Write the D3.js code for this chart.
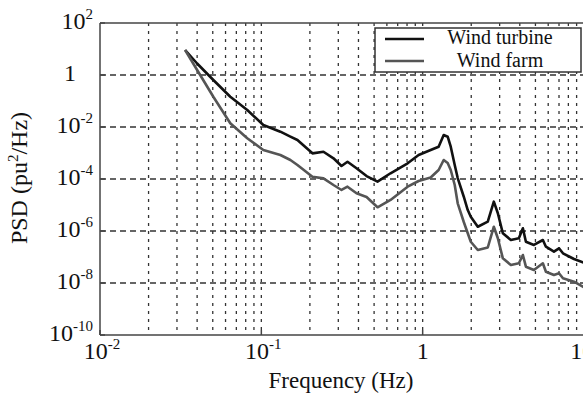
<!DOCTYPE html>
<html>
<head>
<meta charset="utf-8">
<script src="https://cdn.jsdelivr.net/npm/d3@7"></script>
<style>
    body { margin: 0; background: white; }
    svg text { font-family: 'Liberation Serif', serif; fill: #111; }
</style>
</head>
<body>
<svg id="chart" width="583" height="394"></svg>
<script>
// frequencies (Hz) sampled along both curves
const freq = [0.0337, 0.0400, 0.0504, 0.0642, 0.0818, 0.1029, 0.1312, 0.1514, 0.1674, 0.2074,
    0.2427, 0.280, 0.314, 0.342, 0.389, 0.449, 0.525, 0.632, 0.807, 0.944,
    1.121, 1.256, 1.350, 1.429, 1.493, 1.580, 1.649, 1.798, 1.903, 1.987,
    2.196, 2.533, 2.761, 2.924, 3.140, 3.521, 3.947, 4.180, 4.364, 4.891,
    5.560, 5.807, 6.511, 6.998, 7.406, 8.670, 10];
// PSD (pu^2/Hz)
const turbine = [9.16, 2.77, 0.643, 0.146, 0.0451, 0.0119, 6.59e-3, 4.24e-3, 3.16e-3, 9.7e-4,
    1.12e-3, 6.25e-4, 3.16e-4, 4.62e-4, 2.58e-4, 1.30e-4, 7.87e-5, 1.66e-4, 4.02e-4, 8.38e-4,
    1.30e-3, 1.75e-3, 4.92e-3, 4.24e-3, 1.75e-3, 3.45e-4, 1.09e-4, 2.08e-5, 6.42e-6, 3.55e-6,
    1.46e-6, 2.28e-6, 1.34e-5, 4.80e-6, 8.17e-7, 4.51e-7, 5.24e-7, 1.27e-6, 3.87e-7, 2.90e-7,
    4.51e-7, 2.49e-7, 1.60e-7, 2.16e-7, 1.39e-7, 8.38e-8, 6.04e-8];
const farm = [9.16, 1.56, 0.146, 0.0139, 3.67e-3, 1.30e-3, 8.38e-4, 5.38e-4, 3.45e-4, 1.22e-4,
    1.06e-4, 5.88e-5, 3.78e-5, 5.06e-5, 2.82e-5, 2.03e-5, 8.17e-6, 1.56e-5, 5.06e-5, 8.38e-5,
    1.14e-4, 2.22e-4, 5.38e-4, 4.12e-4, 2.22e-4, 5.88e-5, 1.16e-5, 2.22e-6, 8.17e-7, 3.87e-7,
    1.86e-7, 2.32e-7, 1.46e-6, 5.24e-7, 8.9e-8, 4.92e-8, 5.73e-8, 1.19e-7, 4.24e-8, 3.16e-8,
    5.73e-8, 2.72e-8, 2.03e-8, 2.36e-8, 1.52e-8, 1.12e-8, 6.84e-9];

const xTickExp = [-2, -1, 0, 1];
const yTickExp = [2, 0, -2, -4, -6, -8, -10];
const seriesNames = ["Wind turbine", "Wind farm"];
const seriesColors = ["#111", "#555"];

const svg = d3.select("#chart");
const margin = {left: 100, top: 23, right: -1, bottom: 59};
const W = 583, H = 394;

let x = d3.scaleLog().domain([1e-2, 10]).range([margin.left, W - margin.right]);
let y = d3.scaleLog().domain([1e-10, 1e2]).range([H - margin.bottom, margin.top]);

let grid = svg.append("g");
// vertical dotted grid at every 1..9 x decade
let xGrid = [];
for (let e = -2; e < 1; e++) {
    for (let m = 1; m < 10; m++) {
        if (e == -2 && m == 1) continue;
        xGrid.push(m * Math.pow(10, e));
    }
}
grid.selectAll("line.vx")
    .data(xGrid)
    .enter()
    .append("line")
    .attr("x1", d => x(d)).attr("x2", d => x(d))
    .attr("y1", y(1e2)).attr("y2", y(1e-10))
    .attr("stroke", "#333")
    .attr("stroke-width", 1.3)
    .attr("stroke-dasharray", "3,5");
// horizontal dashed grid
grid.selectAll("line.hy")
    .data(yTickExp.filter(e => e < 2 && e > -10))
    .enter()
    .append("line")
    .attr("x1", x(1e-2)).attr("x2", x(10))
    .attr("y1", d => y(Math.pow(10, d))).attr("y2", d => y(Math.pow(10, d)))
    .attr("stroke", "#333")
    .attr("stroke-width", 1.3)
    .attr("stroke-dasharray", "6,4");

// curves
let line = d3.line()
    .x((d, i) => x(freq[i]))
    .y(d => y(d));
[turbine, farm].forEach((s, k) => {
    svg.append("path")
        .attr("d", line(s))
        .attr("fill", "none")
        .attr("stroke", seriesColors[k])
        .attr("stroke-width", 2.6)
        .attr("stroke-linejoin", "round");
});

// axes box
let axes = svg.append("g").attr("stroke", "#444").attr("stroke-width", 1.5);
axes.append("line").attr("x1", x(1e-2)).attr("x2", x(1e-2)).attr("y1", y(1e2)).attr("y2", y(1e-10));
axes.append("line").attr("x1", x(1e-2)).attr("x2", x(10)).attr("y1", y(1e-10)).attr("y2", y(1e-10));
axes.append("line").attr("x1", x(1e-2)).attr("x2", x(10)).attr("y1", y(1e2)).attr("y2", y(1e2));

// tick marks
axes.selectAll("line.yt")
    .data(yTickExp)
    .enter()
    .append("line")
    .attr("x1", x(1e-2)).attr("x2", x(1e-2) + 5)
    .attr("y1", d => y(Math.pow(10, d))).attr("y2", d => y(Math.pow(10, d)));
axes.selectAll("line.xt")
    .data(xTickExp)
    .enter()
    .append("line")
    .attr("x1", d => x(Math.pow(10, d))).attr("x2", d => x(Math.pow(10, d)))
    .attr("y1", y(1e-10)).attr("y2", y(1e-10) - 5);

// tick labels
function powLabel(sel, e) {
    if (e == 0) {
        sel.text("1");
        return;
    }
    sel.append("tspan").text("10");
    sel.append("tspan")
        .attr("dy", -10)
        .attr("font-size", 15)
        .text(e);
}
yTickExp.forEach(e => {
    let t = svg.append("text")
        .attr("x", e == 0 ? 76 : 93)
        .attr("y", y(Math.pow(10, e)) + 6)
        .attr("text-anchor", "end")
        .attr("font-size", 24);
    powLabel(t, e);
});
xTickExp.forEach(e => {
    let t = svg.append("text")
        .attr("x", x(Math.pow(10, e)) + (e == 0 ? 0 : 2))
        .attr("y", 359)
        .attr("text-anchor", "middle")
        .attr("font-size", 24);
    powLabel(t, e);
});

// axis titles
svg.append("text")
    .attr("x", 341)
    .attr("y", 388)
    .attr("text-anchor", "middle")
    .attr("font-size", 23)
    .text("Frequency (Hz)");
let yt = svg.append("text")
    .attr("transform", "translate(27,178) rotate(-90)")
    .attr("text-anchor", "middle")
    .attr("font-size", 24);
yt.append("tspan").text("PSD (pu");
yt.append("tspan").attr("dy", -9).attr("font-size", 15).text("2");
yt.append("tspan").attr("dy", 9).text("/Hz)");

// legend
let legend = svg.append("g");
legend.append("rect")
    .attr("x", 375).attr("y", 28)
    .attr("width", 206).attr("height", 44)
    .attr("fill", "white")
    .attr("stroke", "#333")
    .attr("stroke-width", 1.5);
seriesNames.forEach((name, i) => {
    legend.append("line")
        .attr("x1", 385).attr("x2", 424)
        .attr("y1", 39 + i * 22).attr("y2", 39 + i * 22)
        .attr("stroke", seriesColors[i])
        .attr("stroke-width", 2.6);
    legend.append("text")
        .attr("x", 500)
        .attr("y", 44 + i * 23)
        .attr("text-anchor", "middle")
        .attr("font-size", 20)
        .text(name);
});
</script>
</body>
</html>
